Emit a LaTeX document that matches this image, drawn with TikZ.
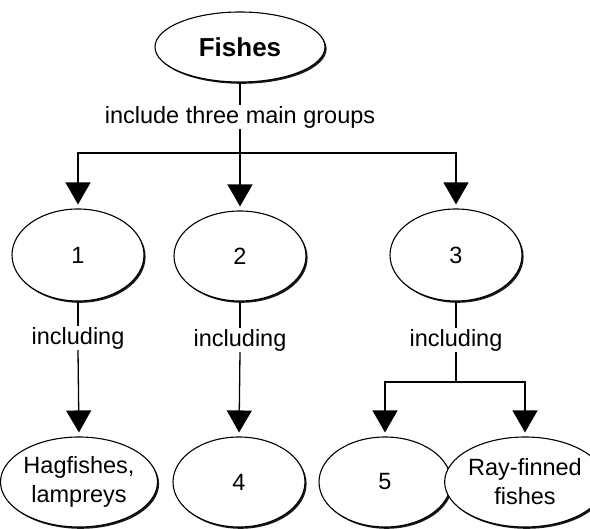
\documentclass[tikz,border=0pt]{standalone}
\usepackage{fontspec}
\setmainfont{Liberation Sans}
\usetikzlibrary{shapes.geometric,arrows.meta,shadows}
\begin{document}
\begin{tikzpicture}[x=1pt,y=-1pt,
  bubble/.style={ellipse, draw, line width=1.1pt, fill=white,
    minimum width=132pt, minimum height=90pt, inner sep=0pt, align=center,
    font=\fontsize{23.5}{29}\selectfont,
    drop shadow={shadow xshift=1.6pt, shadow yshift=-1.8pt, fill=black, opacity=0.9}},
  lbl/.style={font=\fontsize{23.5}{28}\selectfont, inner sep=1pt},
  conn/.style={line width=1.3pt},
  arr/.style={conn, -{Triangle[width=25pt,length=22pt]}, shorten >=4pt}]
\useasboundingbox (0,0) rectangle (590,529);

% top concept
\node[bubble, minimum width=170pt, minimum height=70pt,
      font=\fontsize{26}{30}\selectfont\bfseries] (fishes) at (240,47) {Fishes};
\node[lbl] (lab0) at (240,117) {include three main groups};
\coordinate (j0) at (240,153);

% three groups
\node[bubble, minimum height=92pt] (g1) at (78,255) {1};
\node[bubble, minimum height=90pt] (g2) at (240,256) {2};
\node[bubble, minimum height=92pt] (g3) at (456,255) {3};

\node[lbl] (inc1) at (78,338) {including};
\node[lbl] (inc2) at (240,340) {including};
\node[lbl] (inc3) at (456,340) {including};
\coordinate (j3) at (456,382);

% members
\node[bubble, minimum width=134pt] (hag) at (79,482) {Hagfishes,\\lampreys};
\node[bubble] (g4) at (239,482) {4};
\node[bubble] (g5) at (385,482) {5};
\node[bubble, minimum width=128pt] (ray) at (525,482) {Ray-finned\\fishes};

% connectors
\draw[conn] (fishes.south) -- (lab0.north);
\draw[conn] (lab0.south) -- (j0);
\draw[arr] (j0) -| (g1.north);
\draw[arr] (j0) -- (g2.north);
\draw[arr] (j0) -| (g3.north);

\draw[conn] (g1.south) -- (inc1.north);
\draw[arr] (inc1.south) -- (hag.north);
\draw[conn] (g2.south) -- (inc2.north);
\draw[arr] (inc2.south) -- (g4.north);
\draw[conn] (g3.south) -- (inc3.north);
\draw[conn] (inc3.south) -- (j3);
\draw[arr] (j3) -| (g5.north);
\draw[arr] (j3) -| (ray.north);
\end{tikzpicture}
\end{document}
